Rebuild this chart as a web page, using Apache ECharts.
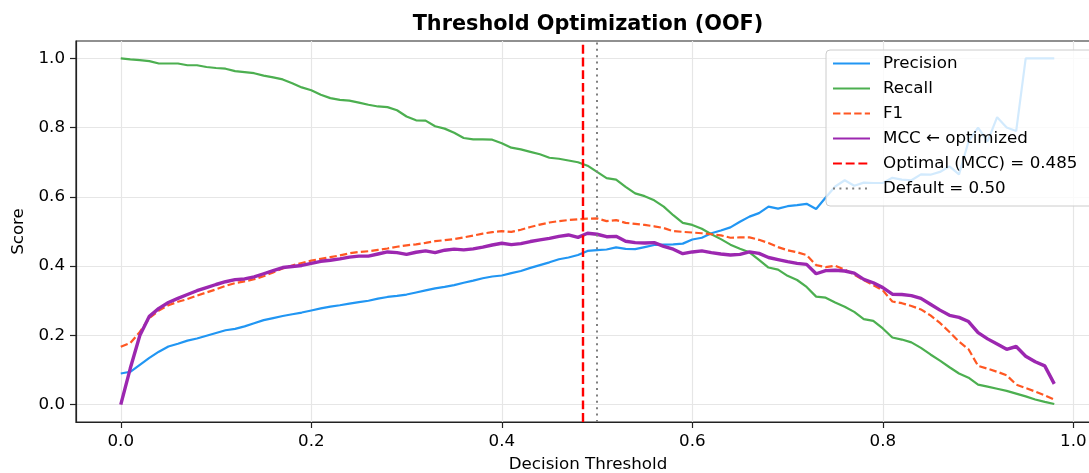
<!DOCTYPE html>
<html>
<head>
<meta charset="utf-8">
<title>Threshold Optimization (OOF)</title>
<script src="https://cdn.jsdelivr.net/npm/echarts@6/dist/echarts.min.js"></script>
<style>
html, body { margin: 0; padding: 0; background: #fff; }
#chart { width: 1089px; height: 473px; }
</style>
</head>
<body>
<div id="chart"></div>
<script>
// decision thresholds on the x axis
const thresholds = [
  0.00, 0.01, 0.02, 0.03, 0.04, 0.05, 0.06, 0.07, 0.08, 0.09,
  0.10, 0.11, 0.12, 0.13, 0.14, 0.15, 0.16, 0.17, 0.18, 0.19,
  0.20, 0.21, 0.22, 0.23, 0.24, 0.25, 0.26, 0.27, 0.28, 0.29,
  0.30, 0.31, 0.32, 0.33, 0.34, 0.35, 0.36, 0.37, 0.38, 0.39,
  0.40, 0.41, 0.42, 0.43, 0.44, 0.45, 0.46, 0.47, 0.48, 0.49,
  0.50, 0.51, 0.52, 0.53, 0.54, 0.55, 0.56, 0.57, 0.58, 0.59,
  0.60, 0.61, 0.62, 0.63, 0.64, 0.65, 0.66, 0.67, 0.68, 0.69,
  0.70, 0.71, 0.72, 0.73, 0.74, 0.75, 0.76, 0.77, 0.78, 0.79,
  0.80, 0.81, 0.82, 0.83, 0.84, 0.85, 0.86, 0.87, 0.88, 0.89,
  0.90, 0.91, 0.92, 0.93, 0.94, 0.95, 0.96, 0.97, 0.98
];

const precision = [
  0.090, 0.095, 0.115, 0.135, 0.153, 0.168, 0.176, 0.185, 0.191, 0.199,
  0.207, 0.215, 0.219, 0.226, 0.235, 0.244, 0.250, 0.256, 0.261, 0.266,
  0.272, 0.278, 0.283, 0.287, 0.292, 0.296, 0.300, 0.306, 0.311, 0.314,
  0.318, 0.324, 0.330, 0.336, 0.340, 0.345, 0.352, 0.358, 0.365, 0.370,
  0.373, 0.380, 0.386, 0.395, 0.403, 0.411, 0.420, 0.425, 0.432, 0.444,
  0.446, 0.448, 0.454, 0.450, 0.449, 0.455, 0.461, 0.462, 0.463, 0.465,
  0.477, 0.482, 0.495, 0.503, 0.512, 0.528, 0.543, 0.553, 0.572, 0.566,
  0.573, 0.576, 0.580, 0.565, 0.598, 0.630, 0.648, 0.632, 0.641, 0.640,
  0.640, 0.655, 0.650, 0.648, 0.665, 0.664, 0.672, 0.688, 0.665, 0.760,
  0.800, 0.760, 0.830, 0.800, 0.790, 1.000, 1.000, 1.000, 1.000
];

const recall = [
  1.000, 0.997, 0.995, 0.992, 0.985, 0.985, 0.985, 0.980, 0.980, 0.975,
  0.972, 0.970, 0.963, 0.960, 0.957, 0.950, 0.945, 0.939, 0.928, 0.916,
  0.908, 0.895, 0.885, 0.880, 0.878, 0.872, 0.866, 0.861, 0.859, 0.850,
  0.832, 0.821, 0.820, 0.804, 0.797, 0.785, 0.770, 0.766, 0.766, 0.765,
  0.755, 0.742, 0.737, 0.730, 0.723, 0.713, 0.710, 0.705, 0.700, 0.690,
  0.672, 0.654, 0.650, 0.629, 0.610, 0.602, 0.590, 0.572, 0.547, 0.525,
  0.519, 0.508, 0.492, 0.478, 0.462, 0.450, 0.440, 0.418, 0.396, 0.390,
  0.372, 0.360, 0.340, 0.312, 0.309, 0.295, 0.283, 0.268, 0.247, 0.242,
  0.220, 0.194, 0.188, 0.180, 0.164, 0.145, 0.127, 0.108, 0.090, 0.078,
  0.058, 0.052, 0.046, 0.040, 0.032, 0.024, 0.015, 0.008, 0.002
];

const f1 = [
  0.167, 0.178, 0.210, 0.250, 0.272, 0.287, 0.297, 0.305, 0.315, 0.324,
  0.333, 0.343, 0.351, 0.356, 0.362, 0.371, 0.382, 0.393, 0.402, 0.409,
  0.416, 0.421, 0.426, 0.431, 0.437, 0.441, 0.443, 0.447, 0.451, 0.456,
  0.460, 0.463, 0.467, 0.472, 0.475, 0.478, 0.483, 0.488, 0.494, 0.498,
  0.501, 0.499, 0.505, 0.513, 0.520, 0.526, 0.530, 0.533, 0.535, 0.537,
  0.538, 0.530, 0.533, 0.525, 0.522, 0.519, 0.515, 0.510, 0.501, 0.499,
  0.497, 0.495, 0.492, 0.489, 0.482, 0.483, 0.483, 0.476, 0.467, 0.455,
  0.446, 0.440, 0.432, 0.403, 0.397, 0.401, 0.390, 0.375, 0.360, 0.345,
  0.330, 0.298, 0.293, 0.285, 0.275, 0.258, 0.236, 0.210, 0.182, 0.160,
  0.112, 0.104, 0.095, 0.085, 0.058, 0.048, 0.038, 0.027, 0.015
];

const mcc = [
  0.000, 0.105, 0.200, 0.255, 0.278, 0.295, 0.307, 0.318, 0.329, 0.338,
  0.347, 0.355, 0.361, 0.363, 0.369, 0.378, 0.387, 0.396, 0.399, 0.402,
  0.408, 0.414, 0.417, 0.421, 0.426, 0.429, 0.429, 0.435, 0.441, 0.439,
  0.434, 0.440, 0.444, 0.439, 0.446, 0.449, 0.447, 0.450, 0.455, 0.461,
  0.466, 0.462, 0.465, 0.471, 0.476, 0.480, 0.486, 0.490, 0.483, 0.495,
  0.492, 0.485, 0.486, 0.472, 0.468, 0.467, 0.468, 0.457, 0.449, 0.436,
  0.441, 0.444, 0.439, 0.435, 0.432, 0.434, 0.441, 0.437, 0.425, 0.419,
  0.413, 0.408, 0.405, 0.378, 0.387, 0.388, 0.386, 0.380, 0.362, 0.352,
  0.338, 0.319, 0.318, 0.315, 0.307, 0.290, 0.273, 0.258, 0.252, 0.240,
  0.208, 0.190, 0.175, 0.160, 0.168, 0.140, 0.124, 0.112, 0.060
];

const optimalThreshold = 0.485;
const defaultThreshold = 0.50;

const xTicks = [0.0, 0.2, 0.4, 0.6, 0.8, 1.0];
const yTicks = [0.0, 0.2, 0.4, 0.6, 0.8, 1.0];

const font = 'DejaVu Sans';

function toPoints(values) {
  return thresholds.map((t, i) => [t, values[i]]);
}

function curve(name, values, color, width, dash) {
  return {
    name: name,
    type: 'line',
    data: toPoints(values),
    showSymbol: false,
    symbol: 'none',
    lineStyle: { color: color, width: width, type: dash || 'solid' },
    itemStyle: { color: color },
    emphasis: { disabled: true }
  };
}

function vline(name, x, color, width, dash) {
  return {
    name: name,
    type: 'line',
    data: [],
    symbol: 'none',
    lineStyle: { color: color, width: width, type: dash },
    itemStyle: { color: color },
    markLine: {
      silent: true,
      symbol: 'none',
      precision: 4,
      label: { show: false },
      lineStyle: { color: color, width: width, type: dash },
      data: [{ xAxis: x }]
    }
  };
}

const chart = echarts.init(document.getElementById('chart'), null, { renderer: 'canvas' });

chart.setOption({
  animation: false,
  backgroundColor: '#ffffff',
  textStyle: { fontFamily: font },
  title: {
    text: 'Threshold Optimization (OOF)',
    left: 588,
    textAlign: 'center',
    top: 14,
    padding: 0,
    textStyle: { fontFamily: font, fontSize: 20.8, fontWeight: 'bold', color: '#000' }
  },
  grid: {
    left: 76,
    top: 41,
    width: 1024,
    height: 381,
    outerBoundsMode: 'none',
    show: true,
    borderColor: '#222',
    borderWidth: 1.2,
    containLabel: false
  },
  legend: {
    orient: 'vertical',
    left: 826,
    top: 50,
    padding: [4, 40, 8, 6],
    itemWidth: 37,
    itemHeight: 14,
    itemGap: 6,
    selectedMode: false,
    itemStyle: { opacity: 0 },
    backgroundColor: 'rgba(255,255,255,0.8)',
    borderColor: '#cccccc',
    borderWidth: 1,
    borderRadius: 4,
    textStyle: { fontFamily: font, fontSize: 16.7, color: '#000', lineHeight: 19, padding: [0, 0, 0, 8] },
    data: ['Precision', 'Recall', 'F1', 'MCC ← optimized', 'Optimal (MCC) = 0.485', 'Default = 0.50']
  },
  xAxis: {
    type: 'value',
    min: -0.047,
    max: 1.028,
    name: 'Decision Threshold',
    nameLocation: 'middle',
    nameGap: 34,
    nameTextStyle: { fontFamily: font, fontSize: 16.7, color: '#000' },
    axisLine: { show: true, onZero: false, lineStyle: { color: '#222', width: 1.2 } },
    axisTick: { show: true, length: 6, lineStyle: { color: '#222', width: 1.2 }, customValues: xTicks },
    axisLabel: {
      fontFamily: font, fontSize: 16.7, color: '#000', margin: 11,
      customValues: xTicks,
      formatter: v => v.toFixed(1)
    },
    splitLine: { show: true, lineStyle: { color: '#e6e6e6', width: 1.2 } }
  },
  yAxis: {
    type: 'value',
    min: -0.05,
    max: 1.05,
    name: 'Score',
    nameLocation: 'middle',
    nameGap: 47,
    nameTextStyle: { fontFamily: font, fontSize: 16.7, color: '#000' },
    axisLine: { show: true, onZero: false, lineStyle: { color: '#222', width: 1.2 } },
    axisTick: { show: true, length: 6, lineStyle: { color: '#222', width: 1.2 }, customValues: yTicks },
    axisLabel: {
      fontFamily: font, fontSize: 16.7, color: '#000', margin: 11,
      customValues: yTicks,
      formatter: v => v.toFixed(1)
    },
    splitLine: { show: true, lineStyle: { color: '#e6e6e6', width: 1.2 } }
  },
  series: [
    curve('Precision', precision, '#2196F3', 2.2),
    curve('Recall', recall, '#4CAF50', 2.2),
    curve('F1', f1, '#FF5722', 2.2, [7.4, 3.2]),
    curve('MCC ← optimized', mcc, '#9C27B0', 3.4),
    vline('Optimal (MCC) = 0.485', optimalThreshold, '#FF0000', 2.4, [8.9, 3.8]),
    vline('Default = 0.50', defaultThreshold, '#808080', 2, [2, 4.4])
  ]
});
</script>
</body>
</html>
